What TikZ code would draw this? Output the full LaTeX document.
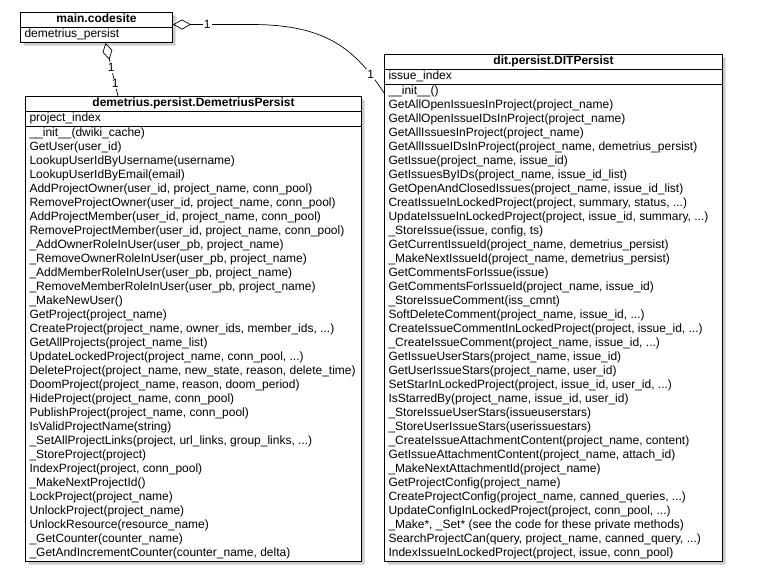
\documentclass[tikz,border=0pt]{standalone}
\usepackage{fontspec}
\setmainfont{Liberation Sans}
\usetikzlibrary{arrows.meta,positioning,shapes.multipart,shadows}

\newcommand{\rows}[1]{\begin{tabular}{@{}l@{}}#1\end{tabular}}

\begin{document}
\begin{tikzpicture}[x=1pt, y=-1pt,
  umlclass/.style={draw=black, line width=1pt, fill=white,
    rectangle split, rectangle split parts=3,
    rectangle split part align={center,left,left},
    inner xsep=4pt, inner ysep=0pt, anchor=north west,
    font=\fontsize{12}{14}\selectfont,
    drop shadow={shadow xshift=3pt, shadow yshift=-3pt, opacity=0.4}},
  mult/.style={fill=white, inner sep=1pt, font=\fontsize{12}{14}\selectfont}]

\useasboundingbox (0,0) rectangle (768,576);

% Classes
\node[umlclass, rectangle split parts=2, minimum width=152pt] (codesite) at (20,12)
  {\strut\textbf{main.codesite}
   \nodepart{second}\strut demetrius\_persist};

\node[umlclass, minimum width=336pt] (demetrius) at (25,96)
  {\strut\textbf{demetrius.persist.DemetriusPersist}
   \nodepart{second}\strut project\_index
   \nodepart{third}\rows{
   \_\_init\_\_(dwiki\_cache)\\
   GetUser(user\_id)\\
   LookupUserIdByUsername(username)\\
   LookupUserIdByEmail(email)\\
   AddProjectOwner(user\_id, project\_name, conn\_pool)\\
   RemoveProjectOwner(user\_id, project\_name, conn\_pool)\\
   AddProjectMember(user\_id, project\_name, conn\_pool)\\
   RemoveProjectMember(user\_id, project\_name, conn\_pool)\\
   \_AddOwnerRoleInUser(user\_pb, project\_name)\\
   \_RemoveOwnerRoleInUser(user\_pb, project\_name)\\
   \_AddMemberRoleInUser(user\_pb, project\_name)\\
   \_RemoveMemberRoleInUser(user\_pb, project\_name)\\
   \_MakeNewUser()\\
   GetProject(project\_name)\\
   CreateProject(project\_name, owner\_ids, member\_ids, ...)\\
   GetAllProjects(project\_name\_list)\\
   UpdateLockedProject(project\_name, conn\_pool, ...)\\
   DeleteProject(project\_name, new\_state, reason, delete\_time)\\
   DoomProject(project\_name, reason, doom\_period)\\
   HideProject(project\_name, conn\_pool)\\
   PublishProject(project\_name, conn\_pool)\\
   IsValidProjectName(string)\\
   \_SetAllProjectLinks(project, url\_links, group\_links, ...)\\
   \_StoreProject(project)\\
   IndexProject(project, conn\_pool)\\
   \_MakeNextProjectId()\\
   LockProject(project\_name)\\
   UnlockProject(project\_name)\\
   UnlockResource(resource\_name)\\
   \_GetCounter(counter\_name)\\
   \_GetAndIncrementCounter(counter\_name, delta)}};

\node[umlclass, minimum width=338pt] (dit) at (384,54)
  {\strut\textbf{dit.persist.DITPersist}
   \nodepart{second}\strut issue\_index
   \nodepart{third}\rows{
   \_\_init\_\_()\\
   GetAllOpenIssuesInProject(project\_name)\\
   GetAllOpenIssueIDsInProject(project\_name)\\
   GetAllIssuesInProject(project\_name)\\
   GetAllIssueIDsInProject(project\_name, demetrius\_persist)\\
   GetIssue(project\_name, issue\_id)\\
   GetIssuesByIDs(project\_name, issue\_id\_list)\\
   GetOpenAndClosedIssues(project\_name, issue\_id\_list)\\
   CreatIssueInLockedProject(project, summary, status, ...)\\
   UpdateIssueInLockedProject(project, issue\_id, summary, ...)\\
   \_StoreIssue(issue, config, ts)\\
   GetCurrentIssueId(project\_name, demetrius\_persist)\\
   \_MakeNextIssueId(project\_name, demetrius\_persist)\\
   GetCommentsForIssue(issue)\\
   GetCommentsForIssueId(project\_name, issue\_id)\\
   \_StoreIssueComment(iss\_cmnt)\\
   SoftDeleteComment(project\_name, issue\_id, ...)\\
   CreateIssueCommentInLockedProject(project, issue\_id, ...)\\
   \_CreateIssueComment(project\_name, issue\_id, ...)\\
   GetIssueUserStars(project\_name, issue\_id)\\
   GetUserIssueStars(project\_name, user\_id)\\
   SetStarInLockedProject(project, issue\_id, user\_id, ...)\\
   IsStarredBy(project\_name, issue\_id, user\_id)\\
   \_StoreIssueUserStars(issueuserstars)\\
   \_StoreUserIssueStars(userissuestars)\\
   \_CreateIssueAttachmentContent(project\_name, content)\\
   GetIssueAttachmentContent(project\_name, attach\_id)\\
   \_MakeNextAttachmentId(project\_name)\\
   GetProjectConfig(project\_name)\\
   CreateProjectConfig(project\_name, canned\_queries, ...)\\
   UpdateConfigInLockedProject(project, conn\_pool, ...)\\
   \_Make*, \_Set* (see the code for these private methods)\\
   SearchProjectCan(query, project\_name, canned\_query, ...)\\
   IndexIssueInLockedProject(project, issue, conn\_pool)}};

% Aggregation codesite -> DITPersist
\draw[line width=0.7pt, {Diamond[open, length=18pt, width=10pt]}-]
  ([yshift=3pt]codesite.east) -- node[mult, pos=0.44] {1} ++(78,0)
  .. controls +(70,0) and +(-31,-48) .. ([yshift=-39pt]dit.north west)
  node[mult, pos=0.86] {1};

% Aggregation codesite -> DemetriusPersist
\draw[line width=0.7pt, {Diamond[open, length=17pt, width=10pt]}-]
  ([xshift=9pt]codesite.south) -- ([xshift=93pt]demetrius.north west)
  node[mult, pos=0.46] {1} node[mult, pos=0.77] {1};

\end{tikzpicture}
\end{document}
